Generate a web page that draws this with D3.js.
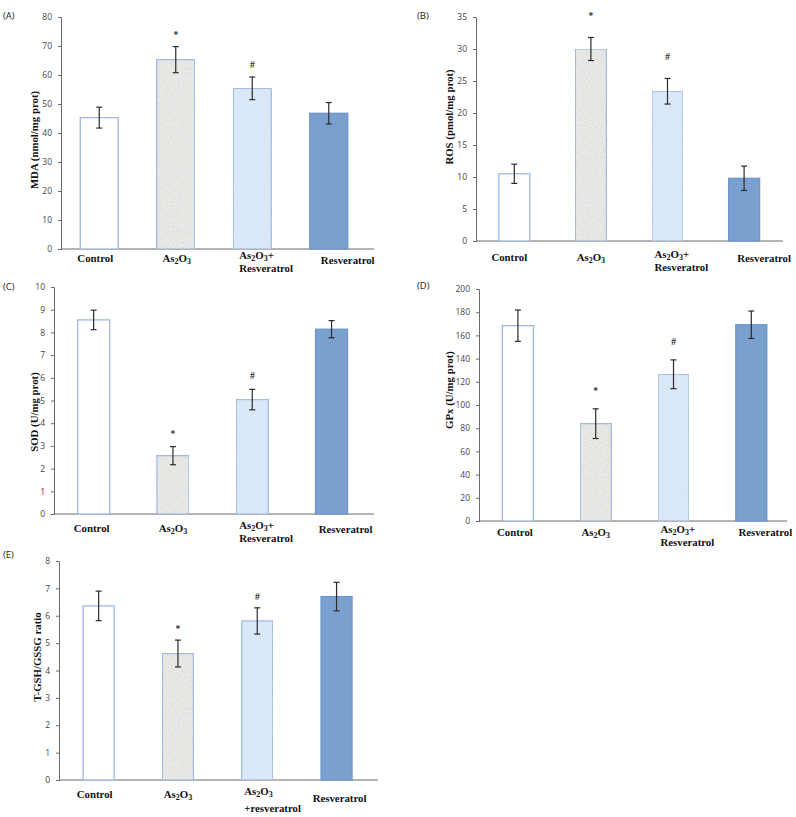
<!DOCTYPE html>
<html>
<head>
<meta charset="utf-8">
<script src="https://cdn.jsdelivr.net/npm/d3@7"></script>
<style>
  html, body { margin: 0; padding: 0; background: #fff; }
  svg { display: block; }
</style>
</head>
<body>
<svg id="chart" width="796" height="817"></svg>
<script>
(function () {
  // groups, same order in every panel ("_" marks a subscript run)
  const categories = ['Control', 'As2O3', 'As2O3+Resveratrol', 'Resveratrol'];
  const categoryLines = [['Control'], ['As_2O_3'], ['As_2O_3+', 'Resveratrol'], ['Resveratrol']];
  const categoryLinesE = [['Control'], ['As_2O_3'], ['As_2O_3', '+resveratrol'], ['Resveratrol']];
  const significance = ['', '*', '#', ''];

  // (A) MDA
  const mdaMean = [45.3, 65.3, 55.4, 46.8];
  const mdaErr = [3.6, 4.5, 3.9, 3.7];
  const mdaTicks = [0, 10, 20, 30, 40, 50, 60, 70, 80];
  // (B) ROS
  const rosMean = [10.5, 30.0, 23.4, 9.8];
  const rosErr = [1.5, 1.8, 2.0, 1.9];
  const rosTicks = [0, 5, 10, 15, 20, 25, 30, 35];
  // (C) SOD
  const sodMean = [8.55, 2.57, 5.04, 8.14];
  const sodErr = [0.43, 0.40, 0.45, 0.38];
  const sodTicks = [0, 1, 2, 3, 4, 5, 6, 7, 8, 9, 10];
  // (D) GPx
  const gpxMean = [168.4, 83.9, 126.5, 169.2];
  const gpxErr = [13.5, 12.8, 12.4, 11.8];
  const gpxTicks = [0, 20, 40, 60, 80, 100, 120, 140, 160, 180, 200];
  // (E) T-GSH/GSSG
  const gshMean = [6.36, 4.62, 5.81, 6.70];
  const gshErr = [0.54, 0.49, 0.48, 0.52];
  const gshTicks = [0, 1, 2, 3, 4, 5, 6, 7, 8];

  const SERIF = '"Liberation Serif", "Times New Roman", serif';
  const SANS = '"Open Sans", "Noto Sans", sans-serif';

  const BAR_STROKE = '#9fb9de';
  const BAR_FILLS = ['#ffffff', '#eaeae8', '#dce9f8', '#7aa0cf'];
  const BAR_STROKES = [BAR_STROKE, BAR_STROKE, BAR_STROKE, '#6f96c8'];
  const BAR_NOISE = [null, 'url(#noiseGrey)', 'url(#noiseBlue)', null];

  // layout of each panel: axis box, band step, bar width, label placement
  const panels = [
    { tag: '(A)', tagX: 3, tagY: 19, title: 'MDA (nmol/mg prot)', mean: mdaMean, err: mdaErr, ticks: mdaTicks,
      left: 61, right: 374, top: 17, bottom: 249, step: 76.5, bw: 38, titleX: 34, titleY: 140,
      markGap: 9, lines: categoryLines, labelY: 262, labelDx: [-4, 1, 14, 19], resvDy: 2 },
    { tag: '(B)', tagX: 417, tagY: 19, title: 'ROS (pmol/mg prot)', mean: rosMean, err: rosErr, ticks: rosTicks,
      left: 476, right: 783, top: 17, bottom: 241, step: 76.6, bw: 31, titleX: 449, titleY: 117,
      markGap: 18, lines: categoryLines, labelY: 261, labelDx: [-5, 0, 14, 20], resvDy: 1 },
    { tag: '(C)', tagX: 3, tagY: 290, title: 'SOD (U/mg prot)', mean: sodMean, err: sodErr, ticks: sodTicks,
      left: 54, right: 374, top: 287, bottom: 514, step: 79.3, bw: 32, titleX: 34, titleY: 412,
      markGap: 10, lines: categoryLines, labelY: 532, labelDx: [-2, 0, 14, 14], resvDy: 1 },
    { tag: '(D)', tagX: 417, tagY: 289, title: 'GPx (U/mg prot)', mean: gpxMean, err: gpxErr, ticks: gpxTicks,
      left: 479, right: 787, top: 289, bottom: 521, step: 77.8, bw: 31, titleX: 449, titleY: 390,
      markGap: 15, lines: categoryLines, labelY: 536, labelDx: [-3, 0, 14, 14], resvDy: 0 },
    { tag: '(E)', tagX: 3, tagY: 558, title: 'T-GSH/GSSG ratio', mean: gshMean, err: gshErr, ticks: gshTicks,
      left: 59, right: 378, top: 561, bottom: 780, step: 79.3, bw: 31, titleX: 37, titleY: 657,
      markGap: 8, lines: categoryLinesE, labelY: 798, labelDx: [-4, 0, 14, 3], resvDy: 4, lineGap: 17 },
  ];

  const svg = d3.select('#chart');

  // subtle paper-like speckle for the textured bars
  const defs = svg.append('defs');
  function noiseFilter(id, rgb, strength) {
    const f = defs.append('filter').attr('id', id)
      .attr('x', 0).attr('y', 0).attr('width', 1).attr('height', 1)
      .attr('color-interpolation-filters', 'sRGB');
    f.append('feTurbulence')
      .attr('type', 'fractalNoise').attr('baseFrequency', 0.8)
      .attr('numOctaves', 2).attr('seed', 3).attr('result', 'turb');
    f.append('feColorMatrix')
      .attr('in', 'turb').attr('type', 'matrix')
      .attr('values', `0 0 0 0 ${rgb[0]}  0 0 0 0 ${rgb[1]}  0 0 0 0 ${rgb[2]}  ${strength} 0 0 0 ${-strength * 0.45}`)
      .attr('result', 'speck');
    f.append('feComposite').attr('in', 'speck').attr('in2', 'SourceGraphic')
      .attr('operator', 'in').attr('result', 'clipped');
    const merge = f.append('feMerge');
    merge.append('feMergeNode').attr('in', 'SourceGraphic');
    merge.append('feMergeNode').attr('in', 'clipped');
  }
  noiseFilter('noiseGrey', [0.78, 0.78, 0.77], 1.3);
  noiseFilter('noiseBlue', [0.80, 0.87, 0.96], 1.6);

  function writeLabel(textSel, str) {
    // "As_2O_3+" -> As, sub 2, O, sub 3, +
    const parts = str.split(/(_\d+)/).filter(s => s.length);
    parts.forEach(p => {
      if (p[0] === '_') {
        textSel.append('tspan').attr('baseline-shift', '-25%')
          .style('font-size', '8px').text(p.slice(1));
      } else {
        textSel.append('tspan').text(p);
      }
    });
  }

  panels.forEach(p => {
    const g = svg.append('g');

    const x = d3.scaleBand()
      .domain(categories)
      .range([p.left, p.left + p.step * categories.length])
      .paddingInner(1 - p.bw / p.step)
      .paddingOuter((1 - p.bw / p.step) / 2);

    const y = d3.scaleLinear()
      .domain([p.ticks[0], p.ticks[p.ticks.length - 1]])
      .range([p.bottom, p.top]);

    // y axis
    const yAxis = g.append('g')
      .attr('transform', `translate(${p.left},0)`)
      .call(d3.axisLeft(y).tickValues(p.ticks).tickSize(3).tickPadding(6).tickFormat(d3.format('d')));
    yAxis.select('.domain').attr('stroke', '#6a6a6a');
    yAxis.selectAll('.tick line').attr('stroke', '#6a6a6a');
    yAxis.selectAll('.tick text')
      .attr('fill', '#444')
      .style('font-family', SANS)
      .style('font-size', '8.5px');

    // x axis line (no ticks)
    g.append('line')
      .attr('x1', p.left).attr('x2', p.right)
      .attr('y1', y(0)).attr('y2', y(0))
      .attr('stroke', '#6a6a6a').attr('stroke-width', 1);

    // bars
    categories.forEach((c, i) => {
      const bx = x(c);
      const by = y(p.mean[i]);
      g.append('rect')
        .attr('x', bx).attr('y', by)
        .attr('width', x.bandwidth())
        .attr('height', y(0) - by)
        .attr('fill', BAR_FILLS[i])
        .attr('filter', BAR_NOISE[i])
        .attr('stroke', BAR_STROKES[i])
        .attr('stroke-width', 1.3);
    });

    // error bars
    categories.forEach((c, i) => {
      const cx = x(c) + x.bandwidth() / 2;
      const hi = y(p.mean[i] + p.err[i]);
      const lo = y(p.mean[i] - p.err[i]);
      const eb = g.append('g').attr('stroke', '#2b2b2b').attr('stroke-width', 1.2);
      eb.append('line').attr('x1', cx).attr('x2', cx).attr('y1', hi).attr('y2', lo);
      eb.append('line').attr('x1', cx - 3).attr('x2', cx + 3).attr('y1', hi).attr('y2', hi);
      eb.append('line').attr('x1', cx - 3).attr('x2', cx + 3).attr('y1', lo).attr('y2', lo);

      if (significance[i]) {
        g.append('text')
          .attr('x', cx).attr('y', hi - p.markGap)
          .attr('text-anchor', 'middle')
          .attr('fill', '#333')
          .style('font-family', SERIF)
          .style('font-weight', 'bold')
          .style('font-size', '9.5px')
          .text(significance[i]);
      }
    });

    // category labels
    categories.forEach((c, i) => {
      const lines = p.lines[i];
      const cx = x(c) + x.bandwidth() / 2 + p.labelDx[i];
      const multi = lines.length > 1;
      lines.forEach((ln, k) => {
        const t = g.append('text')
          .attr('x', multi ? cx - 27 : cx)
          .attr('y', p.labelY + (i === 3 ? p.resvDy : 0) + k * (p.lineGap || 12.5) - (multi ? 3 : 0))
          .attr('text-anchor', multi ? 'start' : 'middle')
          .attr('fill', '#111')
          .style('font-family', SERIF)
          .style('font-weight', 'bold')
          .style('font-size', '10.8px');
        writeLabel(t, ln);
      });
    });

    // y title
    g.append('text')
      .attr('transform', `translate(${p.titleX},${p.titleY}) rotate(-90)`)
      .attr('text-anchor', 'middle')
      .attr('dy', '0.35em')
      .attr('fill', '#111')
      .style('font-family', SERIF)
      .style('font-weight', 'bold')
      .style('font-size', '10.8px')
      .text(p.title);

    // panel tag
    svg.append('text')
      .attr('x', p.tagX).attr('y', p.tagY)
      .attr('fill', '#222')
      .style('font-family', SANS)
      .style('font-size', '9.5px')
      .text(p.tag);
  });
})();
</script>
</body>
</html>
